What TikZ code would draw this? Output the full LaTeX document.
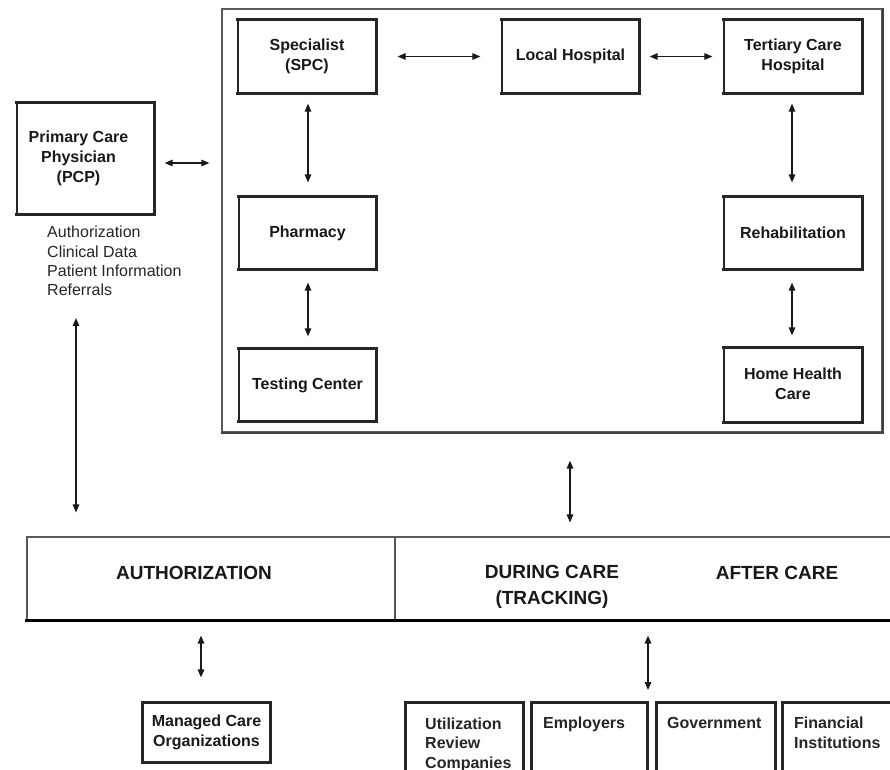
\documentclass[tikz,border=0pt]{standalone}
\usepackage{fontspec}
\setmainfont{Liberation Sans}
\usetikzlibrary{arrows.meta,calc}

% a centred block of lines, lifted a little above the box centre
\newcommand\stackedlabel[2][3pt]{\raisebox{#1}{\begin{tabular}{@{}c@{}}#2\end{tabular}}}

\tikzset{
  panel/.style={draw=black!85, line width=1.2pt, minimum width=#1, inner sep=0pt},
  boxtext/.style={font=\bfseries\fontsize{16}{20}\selectfont, align=center, text=black!90},
  bigtext/.style={font=\bfseries\fontsize{19}{26}\selectfont, align=center, text=black!90},
  listtext/.style={font=\fontsize{16}{19.3}\selectfont, align=left, inner sep=0pt, text=black!85},
  orgtext/.style={listtext, font=\bfseries\fontsize{16}{19.5}\selectfont, anchor=north west},
  arr/.style={line width=1.3pt, draw=black!90, {Triangle[length=8pt,width=6.5pt]}-{Triangle[length=8pt,width=6.5pt]}},
  heavy/.style={line width=2.3pt, draw=black!85, line cap=rect}
}

\begin{document}
\begin{tikzpicture}[x=1pt,y=-1pt]
\clip (0,0) rectangle (890,769);
\fill[white] (0,0) rectangle (890,769);

% outer frame around the care providers
\node[panel=660pt, minimum height=423pt, draw=black!65] (frame) at (552,220.5) {};
\draw[heavy, line width=1.8pt, draw=black!75] (frame.south west) -- (frame.south east) -- (frame.north east);

% provider boxes
\node[panel=138pt, minimum height=73pt, boxtext] (spc) at (307,56.5) {\stackedlabel{Specialist\\(SPC)}};
\node[panel=137pt, minimum height=73pt, boxtext] (lh)  at (570.5,56.5) {Local Hospital};
\node[panel=138pt, minimum height=73pt, boxtext] (tch) at (793,56.5) {\stackedlabel{Tertiary Care\\Hospital}};
\node[panel=137pt, minimum height=72pt, boxtext] (ph)  at (307.5,233) {Pharmacy};
\node[panel=137pt, minimum height=72pt, boxtext] (tc)  at (307.5,385) {Testing Center};
\node[panel=138pt, minimum height=72pt, boxtext] (rh)  at (793,233) {Rehabilitation};
\node[panel=138pt, minimum height=74pt, boxtext] (hhc) at (793,385) {\stackedlabel[5pt]{Home Health\\Care}};

% primary care physician and the data it sends
\node[panel=137pt, minimum height=111pt, boxtext] (pcp) at (85.5,158.5) {\hspace*{-14pt}\stackedlabel[1pt]{Primary Care\\Physician\\(PCP)}};
\node[listtext, anchor=north west] (lst) at (47,226) {Authorization\\Clinical Data\\Patient Information\\Referrals};

% thicker top, right and bottom edges of the boxes
\foreach \b in {spc,lh,tch,ph,tc,rh,hhc,pcp} {
  \draw[heavy] (\b.north west) -- (\b.north east) -- (\b.south east) -- (\b.south west);
}

% phase band
\node[panel=368pt, minimum height=83pt, draw=black!65, line width=1.1pt] (auth) at (211,578.5) {};
\node[panel=525pt, minimum height=83pt, draw=black!65, line width=1.1pt] (care) at (657.5,578.5) {};
\draw[heavy, line width=2.2pt, draw=black] (auth.south west) -- (care.south east);
\node[bigtext] (authl) at (194,573) {AUTHORIZATION};
\node[bigtext] (during) at (552,586.5) {DURING CARE\\(TRACKING)};
\node[bigtext] (after) at (777,573) {AFTER CARE};

% outside organisations
\node[panel=127pt, minimum height=59pt, boxtext] (mco) at (206.5,732.5) {\stackedlabel[0pt]{Managed Care\\Organizations}};
\node[panel=117pt, minimum height=117pt] (ur)  at (464.5,761.5) {};
\node[panel=115pt, minimum height=117pt] (emp) at (589.5,761.5) {};
\node[panel=118pt, minimum height=117pt] (gov) at (716,761.5) {};
\node[panel=122pt, minimum height=117pt] (fin) at (844,761.5) {};
\foreach \b in {mco,ur,emp,gov,fin} {
  \draw[heavy] (\b.south west) -- (\b.north west) -- (\b.north east) -- (\b.south east) -- (\b.south west);
}
\node[orgtext] (urt)  at (425,717.5) {Utilization\\Review\\Companies};
\node[orgtext] (empt) at (543,717) {Employers};
\node[orgtext] (govt) at (667,717) {Government};
\node[orgtext] (fint) at (794,717) {Financial\\Institutions};

% connectors
\draw[arr, shorten <=21pt, shorten >=21pt] (spc) -- (lh);
\draw[arr, shorten <=10pt, shorten >=11pt] (lh) -- (tch);
\draw[arr, shorten <=10pt, shorten >=14pt] ($(spc.south)+(1,0)$) -- ($(ph.north)+(0.5,0)$);
\draw[arr, shorten <=13pt, shorten >=12pt] ($(ph.south)+(0.5,0)$) -- ($(tc.north)+(0.5,0)$);
\draw[arr, shorten <=10pt, shorten >=14pt] ($(tch.south)+(-1,0)$) -- ($(rh.north)+(-1,0)$);
\draw[arr, shorten <=13pt, shorten >=12pt] ($(rh.south)+(-1,0)$) -- ($(hhc.north)+(-1,0)$);
\draw[arr, shorten <=10pt, shorten >=12pt] ($(pcp.east)+(0,4.5)$) -- ($(frame.west)+(0,-57.5)$);

\coordinate (refout) at (76,318);
\draw[arr, shorten >=24pt] (refout) -- (refout |- auth.north);
\draw[arr, shorten <=28pt, shorten >=14pt] (frame.south -| 570,0) -- (care.north -| 570,0);
\draw[arr, shorten <=15pt, shorten >=25pt] (auth.south -| 201,0) -- (mco.north -| 201,0);
\coordinate (rowtop) at (648,703);
\draw[arr, shorten <=15pt, shorten >=13pt] (care.south -| rowtop) -- (rowtop);
\end{tikzpicture}
\end{document}
